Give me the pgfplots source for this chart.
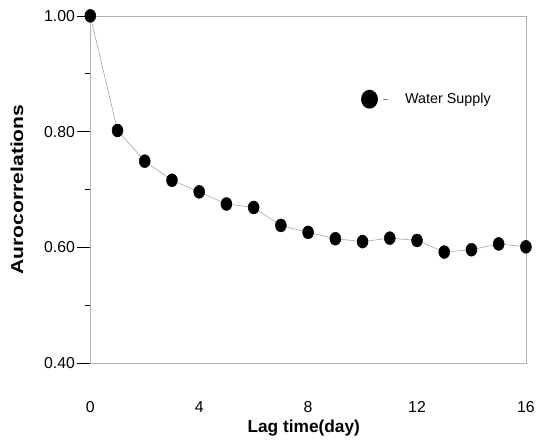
\documentclass[border=0pt]{standalone}
\usepackage{fontspec}
\setmainfont{Liberation Sans}
\usepackage{pgfplots}
\pgfplotsset{compat=1.18}
\begin{document}
\begin{tikzpicture}
\begin{axis}[
  scale only axis, width=439bp, height=350bp,
  xmin=0, xmax=16, ymin=0.4, ymax=1.0,
  clip=false,
  xtick={0,4,8,12,16},
  ytick={0.4,0.6,0.8,1.0},
  minor ytick={0.5,0.7,0.9},
  yticklabel style={xshift=1bp, /pgf/number format/fixed, /pgf/number format/fixed zerofill, /pgf/number format/precision=2},
  /pgf/number format/assume math mode=true,
  tick label style={font=\fontsize{16}{18}\selectfont},
  y tick style={black, line width=0.6bp},
  major tick length=13bp, minor tick length=5bp,
  tick align=outside,
  ytick pos=left, xtick pos=bottom,
  x tick style={draw=none},
  xticklabel style={yshift=-22bp},
  axis line style={gray!60, line width=0.6bp},
  xlabel={\bfseries Lag time(day)},
  ylabel={\scalebox{1.22}[1]{\bfseries Aurocorrelations}},
  xlabel style={font=\fontsize{17.5}{20}\selectfont, at={(axis description cs:0.49,-0.188)}, anchor=center},
  ylabel style={font=\fontsize{17.5}{20}\selectfont, at={(axis description cs:-0.1686,0.5)}, anchor=center},
  legend style={at={(axis cs:9.92,0.856)}, anchor=west, draw=none, fill=none,
    font=\fontsize{14.5}{17}\selectfont, inner sep=0pt},
  legend cell align=left,
]
\addplot[gray!80, line width=0.5bp, mark=*, mark size=6.5bp,
  mark options={solid, fill=black, draw=black, xscale=0.85},
  legend image code/.code={%
    \fill[black, draw=none] (9bp,0) ellipse (8.5bp and 9.5bp);
    \draw[gray, line width=0.5bp] (23bp,0) -- (28bp,0);
    \path[draw=none] (0,0) -- (43bp,0);}]
  coordinates {
  (0,1.000) (1,0.802) (2,0.749) (3,0.716) (4,0.696) (5,0.675) (6,0.669)
  (7,0.638) (8,0.626) (9,0.615) (10,0.610) (11,0.616) (12,0.612)
  (13,0.592) (14,0.596) (15,0.606) (16,0.601)
  };
\addlegendentry{Water Supply}
\end{axis}
\path ([xshift=-91bp,yshift=-73bp]current axis.south west) rectangle ([xshift=8bp,yshift=16bp]current axis.north east);
\end{tikzpicture}
\end{document}
